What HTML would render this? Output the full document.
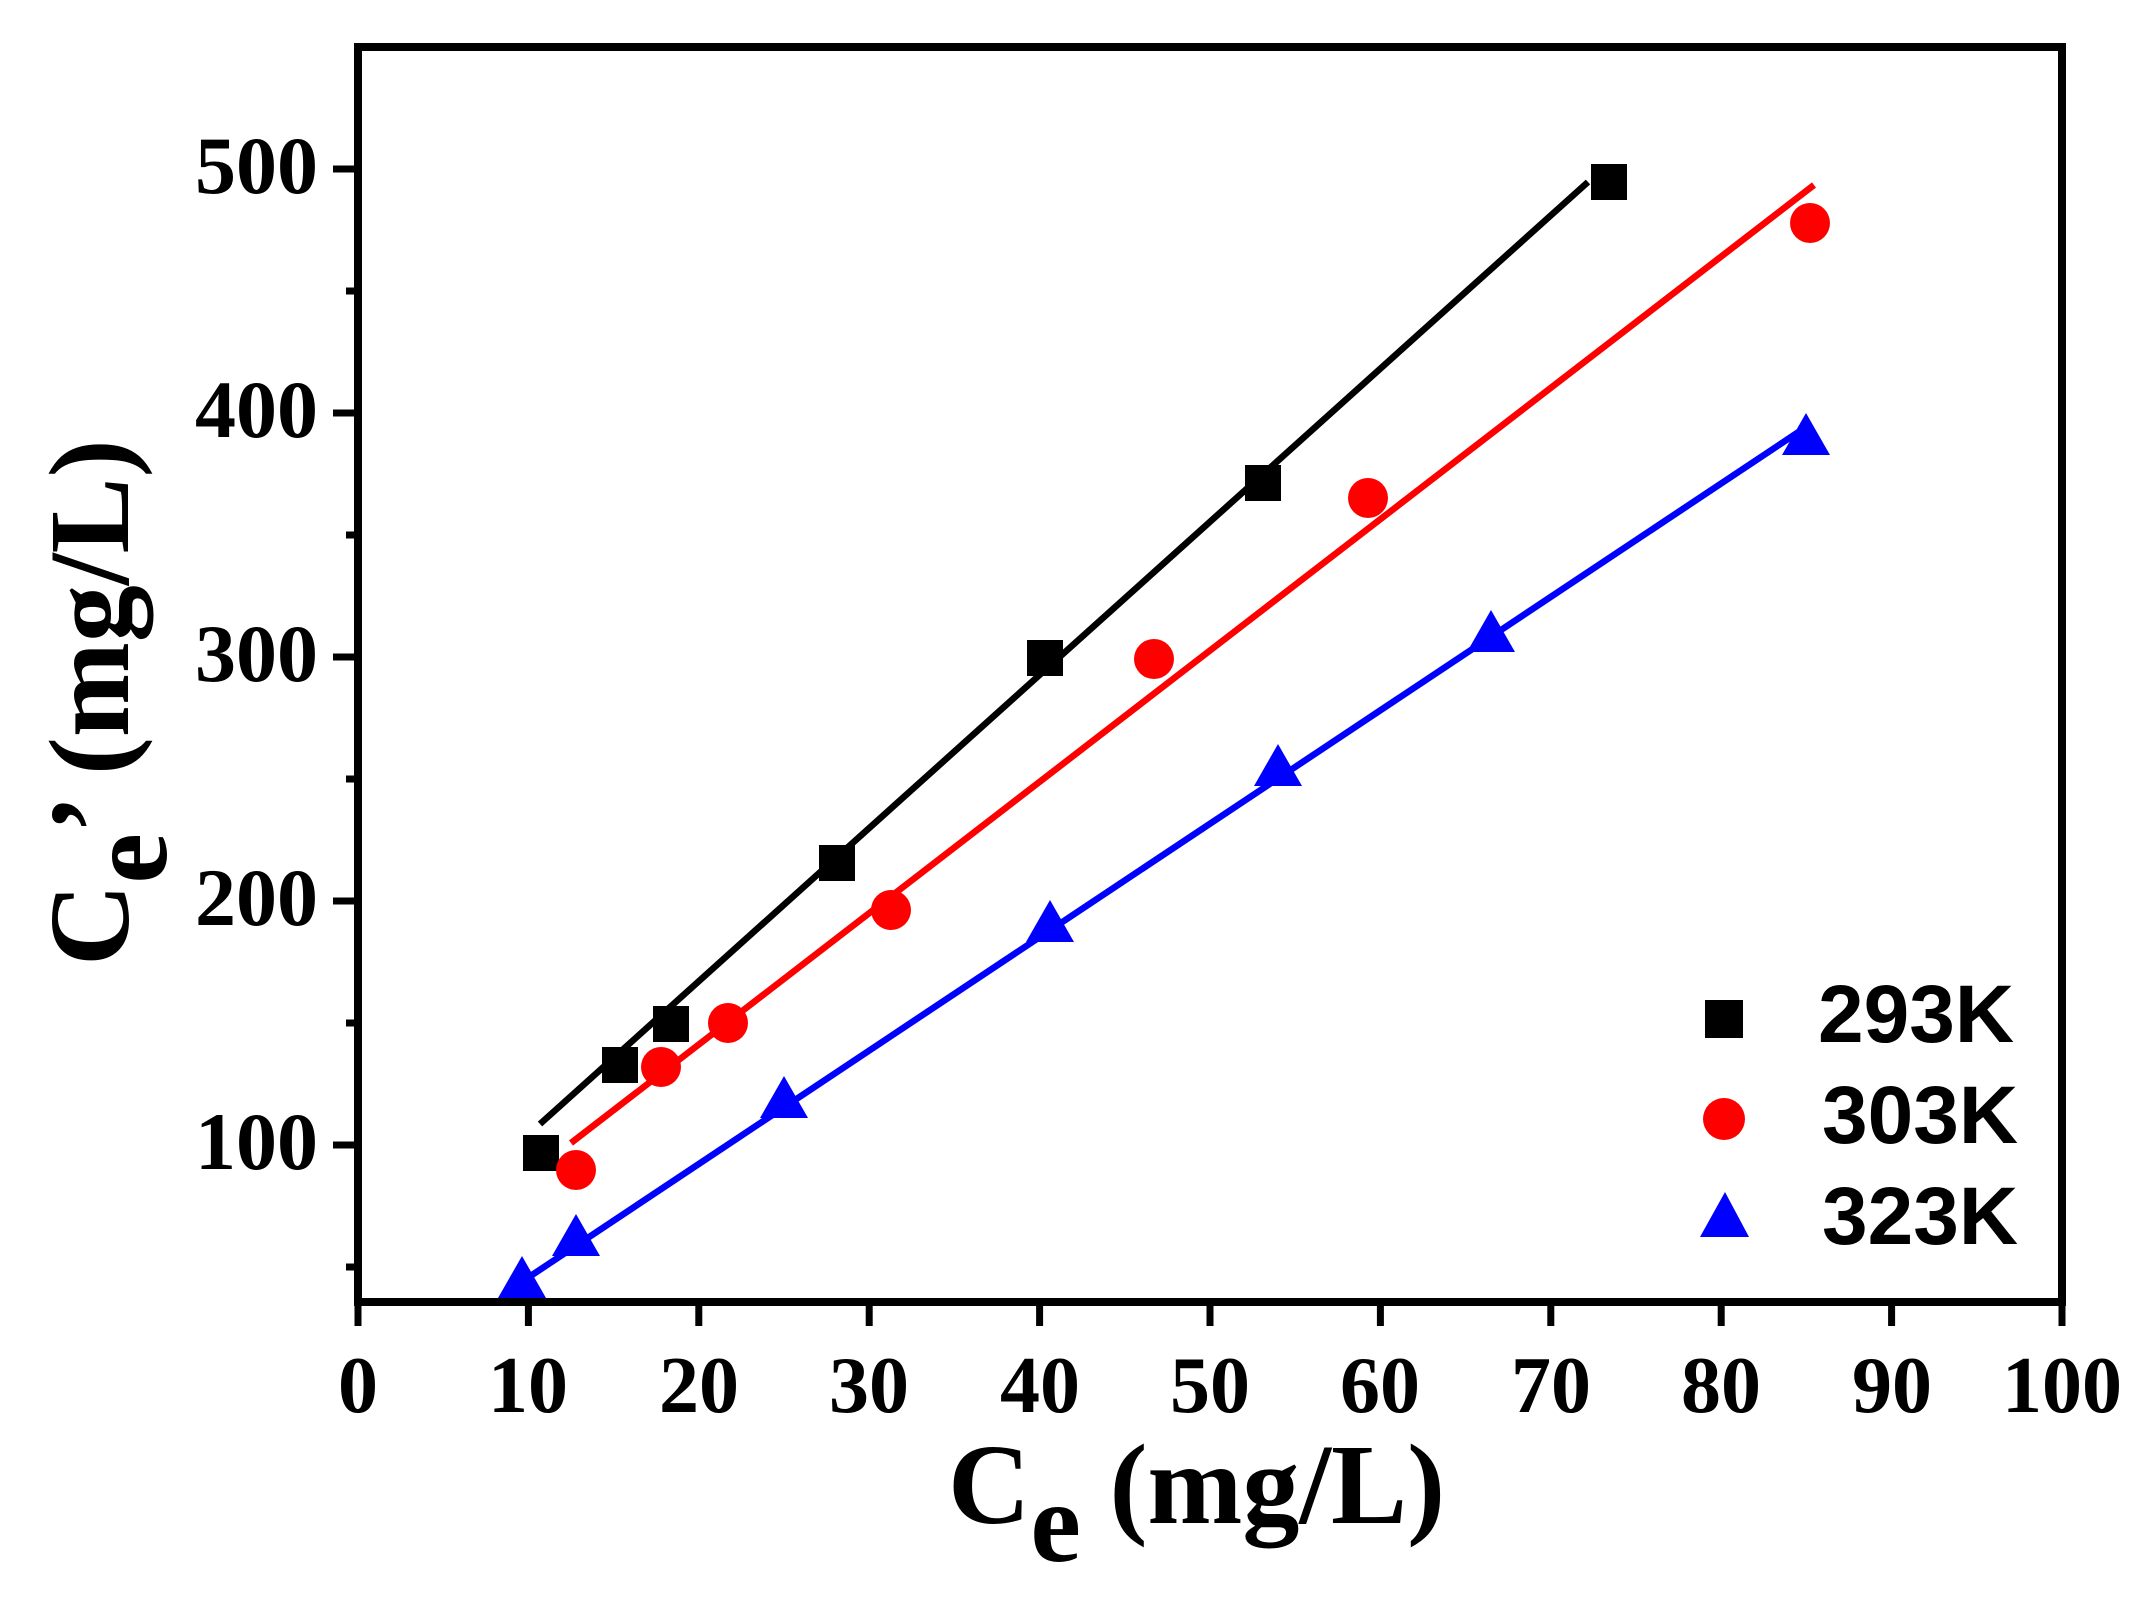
<!DOCTYPE html>
<html><head><meta charset="utf-8"><style>html,body{margin:0;padding:0;background:#fff}svg{display:block}</style></head>
<body>
<svg width="2146" height="1612" viewBox="0 0 2146 1612" xmlns="http://www.w3.org/2000/svg">
<rect width="2146" height="1612" fill="#fff"/>
<g stroke="#000" stroke-width="8" fill="none">
<rect x="358" y="47" width="1704" height="1255"/>
</g>
<g stroke="#000" stroke-width="7">
<line x1="358" y1="1302" x2="358" y2="1326"/><line x1="528.4" y1="1302" x2="528.4" y2="1326"/>
<line x1="698.8" y1="1302" x2="698.8" y2="1326"/><line x1="869.2" y1="1302" x2="869.2" y2="1326"/>
<line x1="1039.6" y1="1302" x2="1039.6" y2="1326"/><line x1="1210" y1="1302" x2="1210" y2="1326"/>
<line x1="1380.4" y1="1302" x2="1380.4" y2="1326"/><line x1="1550.8" y1="1302" x2="1550.8" y2="1326"/>
<line x1="1721.2" y1="1302" x2="1721.2" y2="1326"/><line x1="1891.6" y1="1302" x2="1891.6" y2="1326"/>
<line x1="2062" y1="1302" x2="2062" y2="1326"/>
<line x1="333" y1="169" x2="358" y2="169"/><line x1="333" y1="413" x2="358" y2="413"/>
<line x1="333" y1="657" x2="358" y2="657"/><line x1="333" y1="901" x2="358" y2="901"/>
<line x1="333" y1="1145" x2="358" y2="1145"/>
<line x1="346" y1="291" x2="358" y2="291"/><line x1="346" y1="535" x2="358" y2="535"/>
<line x1="346" y1="779" x2="358" y2="779"/><line x1="346" y1="1023" x2="358" y2="1023"/>
<line x1="346" y1="1267" x2="358" y2="1267"/>
</g>
<g font-family="Liberation Serif, serif" font-weight="bold" font-size="82" fill="#000" text-anchor="end">
<text x="318" y="193">500</text><text x="318" y="437">400</text><text x="318" y="681">300</text>
<text x="318" y="925">200</text><text x="318" y="1169">100</text>
</g>
<g font-family="Liberation Serif, serif" font-weight="bold" font-size="80" fill="#000" text-anchor="middle">
<text x="358" y="1412">0</text><text x="528" y="1412">10</text><text x="699" y="1412">20</text>
<text x="869" y="1412">30</text><text x="1040" y="1412">40</text><text x="1210" y="1412">50</text>
<text x="1380" y="1412">60</text><text x="1551" y="1412">70</text><text x="1721" y="1412">80</text>
<text x="1892" y="1412">90</text><text x="2062" y="1412">100</text>
</g>
<text x="948" y="1523" font-family="Liberation Serif, serif" font-weight="bold" font-size="114" fill="#000">C<tspan dy="38">e</tspan><tspan dy="-38"> (mg/L)</tspan></text>
<text transform="translate(128,966) rotate(-90)" font-family="Liberation Serif, serif" font-weight="bold" font-size="114" fill="#000">C<tspan dy="38">e</tspan><tspan dy="-38">’ (mg/L)</tspan></text>
<g stroke-width="6.5" fill="none">
<line x1="540" y1="1124" x2="1588" y2="182" stroke="#000"/>
<line x1="571" y1="1143" x2="1814" y2="185" stroke="#f00"/>
<line x1="520" y1="1283" x2="1806" y2="427" stroke="#00f"/>
</g>
<g fill="#000">
<rect x="523" y="1135" width="36" height="36"/><rect x="602" y="1047" width="36" height="36"/>
<rect x="653" y="1006" width="36" height="36"/><rect x="819" y="845" width="36" height="36"/>
<rect x="1027" y="640" width="36" height="36"/><rect x="1245" y="465" width="36" height="36"/>
<rect x="1591" y="164" width="36" height="36"/>
</g>
<g fill="#f00">
<circle cx="576" cy="1170" r="20"/><circle cx="661" cy="1067" r="20"/><circle cx="728" cy="1023" r="20"/>
<circle cx="891" cy="910" r="20"/><circle cx="1154" cy="659" r="20"/><circle cx="1368" cy="498" r="20"/>
<circle cx="1810" cy="223" r="20"/>
</g>
<g fill="#00f">
<polygon points="522,1256 546,1298 498,1298"/><polygon points="576,1214 600,1256 552,1256"/>
<polygon points="784,1076 808,1118 760,1118"/><polygon points="1050,900 1074,942 1026,942"/>
<polygon points="1278,744 1302,786 1254,786"/><polygon points="1491,610 1515,652 1467,652"/>
<polygon points="1806,413 1830,455 1782,455"/>
</g>
<rect x="1705" y="1000" width="38" height="38" fill="#000"/>
<circle cx="1724" cy="1119" r="21" fill="#f00"/>
<polygon points="1725,1192 1749,1237 1700,1237" fill="#00f"/>
<g font-family="Liberation Sans, sans-serif" font-weight="bold" font-size="82" fill="#000">
<text x="1818" y="1042">293K</text><text x="1822" y="1143">303K</text><text x="1822" y="1244">323K</text>
</g>
</svg>
</body></html>
